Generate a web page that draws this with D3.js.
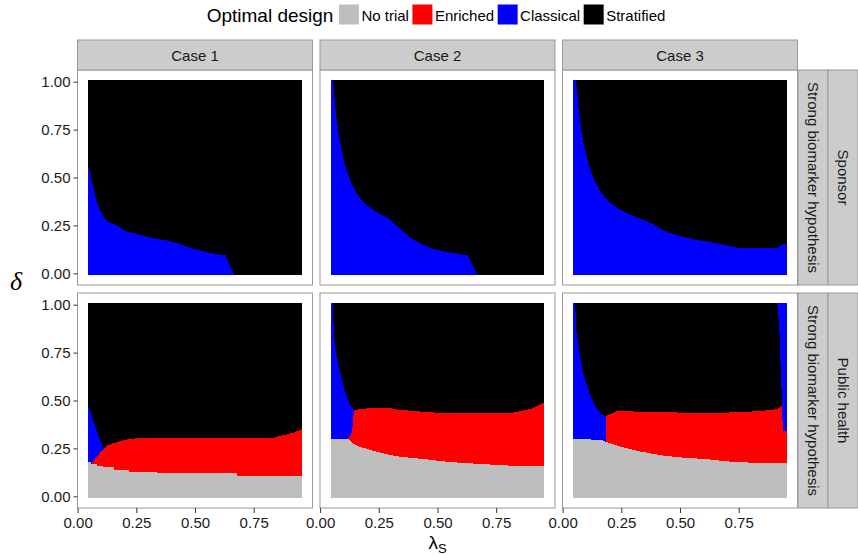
<!DOCTYPE html>
<html>
<head>
<meta charset="utf-8">
<script src="https://cdn.jsdelivr.net/npm/d3@7"></script>
<style>
body { margin: 0; background: #fff; }
text { font-family: "Liberation Sans", Arial, sans-serif; }
</style>
</head>
<body>
<script>
var cases = ["Case 1", "Case 2", "Case 3"];
var rows = ["Sponsor", "Public health"];
var rowSub = "Strong biomarker hypothesis";
var designs = ["No trial", "Enriched", "Classical", "Stratified"];
var designColors = ["#BEBEBE", "#FF0000", "#0000FF", "#000000"];
var xTicks = [0, 0.25, 0.5, 0.75];
var yTicks = [0, 0.25, 0.5, 0.75, 1];

// raster extent (tile edges)
var lamRange = [0.045, 0.955];
var delRange = [-0.01, 1.01];

// boundaries: [lambda_S, delta]
var blueS1 = [[0.045,0.555],[0.051,0.53],[0.06,0.489],[0.068,0.436],[0.079,0.384],[0.094,0.332],[0.108,0.297],[0.129,0.271],[0.15,0.259],[0.179,0.242],[0.207,0.219],[0.25,0.207],[0.292,0.193],[0.335,0.18],[0.391,0.169],[0.42,0.159],[0.462,0.141],[0.505,0.124],[0.548,0.11],[0.59,0.101],[0.63,0.093],[0.668,-0.01]];
var blueS2 = [[0.045,1.01],[0.055,1.01],[0.062,0.905],[0.069,0.818],[0.076,0.749],[0.086,0.68],[0.097,0.61],[0.112,0.54],[0.133,0.471],[0.154,0.419],[0.176,0.384],[0.197,0.358],[0.225,0.332],[0.253,0.311],[0.289,0.289],[0.317,0.259],[0.353,0.219],[0.395,0.176],[0.438,0.15],[0.48,0.128],[0.523,0.115],[0.565,0.107],[0.629,0.093],[0.671,-0.01]];
var blueS3 = [[0.045,1.01],[0.056,1.01],[0.061,0.957],[0.066,0.888],[0.073,0.818],[0.08,0.749],[0.089,0.68],[0.099,0.627],[0.113,0.558],[0.134,0.488],[0.156,0.436],[0.177,0.401],[0.205,0.367],[0.241,0.335],[0.29,0.306],[0.34,0.28],[0.382,0.259],[0.418,0.231],[0.46,0.21],[0.503,0.193],[0.552,0.179],[0.602,0.169],[0.659,0.155],[0.715,0.141],[0.751,0.132],[0.8,0.131],[0.857,0.131],[0.914,0.132],[0.935,0.15],[0.955,0.155]];

var blueP1 = [[0.045,0.472],[0.054,0.446],[0.068,0.394],[0.082,0.342],[0.096,0.29],[0.113,0.252]];
var redP1 = [[0.058,0.168],[0.082,0.208],[0.096,0.228],[0.113,0.252],[0.125,0.264],[0.153,0.278],[0.181,0.287],[0.217,0.299],[0.25,0.302],[0.833,0.302],[0.847,0.311],[0.89,0.322],[0.925,0.334],[0.955,0.351]];
var grayP1 = [[0.045,0.178],[0.058,0.168],[0.082,0.16],[0.11,0.151],[0.153,0.139],[0.217,0.129],[0.337,0.12],[0.677,0.108],[0.955,0.108]];

var blueP2 = [[0.045,1.01],[0.055,1.01],[0.058,0.846],[0.069,0.742],[0.083,0.655],[0.105,0.551],[0.126,0.481],[0.144,0.447]];
var redP2 = [[0.119,0.299],[0.126,0.311],[0.137,0.342],[0.14,0.394],[0.144,0.447],[0.168,0.455],[0.211,0.46],[0.296,0.46],[0.338,0.451],[0.423,0.443],[0.523,0.434],[0.636,0.433],[0.806,0.434],[0.863,0.447],[0.905,0.459],[0.934,0.478],[0.955,0.49]];
var grayP2 = [[0.045,0.299],[0.119,0.299],[0.14,0.276],[0.168,0.259],[0.211,0.243],[0.253,0.229],[0.296,0.216],[0.338,0.207],[0.395,0.2],[0.466,0.191],[0.551,0.179],[0.679,0.169],[0.764,0.163],[0.863,0.157],[0.955,0.157]];

var blueP3 = [[0.045,1.01],[0.054,1.01],[0.057,0.88],[0.071,0.759],[0.085,0.655],[0.106,0.568],[0.134,0.481],[0.163,0.429],[0.183,0.417]];
var blueP3Right = [[0.914,1.01,1.01],[0.923,0.88,1.01],[0.928,0.707,1.01],[0.932,0.568,1.01],[0.935,0.472,1.01],[0.938,0.342,1.01],[0.955,0.342,1.01]];
var redP3 = [[0.183,0.417],[0.227,0.443],[0.29,0.443],[0.46,0.438],[0.645,0.434],[0.815,0.443],[0.857,0.447],[0.914,0.455],[0.935,0.472],[0.938,0.342],[0.955,0.342]];
var grayP3 = [[0.045,0.299],[0.163,0.295],[0.191,0.281],[0.233,0.264],[0.276,0.25],[0.333,0.233],[0.432,0.212],[0.503,0.203],[0.602,0.195],[0.716,0.181],[0.857,0.172],[0.955,0.172]];

var panels = [
  {row:0, col:0, blue:[blueS1]},
  {row:0, col:1, blue:[blueS2]},
  {row:0, col:2, blue:[blueS3]},
  {row:1, col:0, blue:[blueP1], red:redP1, gray:grayP1, grayStep:true},
  {row:1, col:1, blue:[blueP2], red:redP2, gray:grayP2},
  {row:1, col:2, blue:[blueP3], blueExtra:blueP3Right, red:redP3, gray:grayP3}
];

var W = 858, H = 555;
var panelLeft = 77.5, panelW = 235, gapX = 7.5;
var panelTops = [70, 293], panelH = 215;
var stripTop = 40;

var svg = d3.select("body").append("svg").attr("width", W).attr("height", H);

panels.forEach(function(p) {
  var px = panelLeft + p.col * (panelW + gapX);
  var py = panelTops[p.row];
  var x = d3.scaleLinear().domain([-0.0005, 1.0005]).range([px, px + panelW]);
  var y = d3.scaleLinear().domain([-0.061, 1.061]).range([py + panelH, py]);
  var g = svg.append("g");

  g.append("rect").attr("x", px).attr("y", py).attr("width", panelW).attr("height", panelH)
    .attr("fill", "#fff");

  // stratified = background of the raster
  g.append("rect")
    .attr("x", x(lamRange[0])).attr("y", y(delRange[1]))
    .attr("width", x(lamRange[1]) - x(lamRange[0]))
    .attr("height", y(delRange[0]) - y(delRange[1]))
    .attr("fill", designColors[3]).attr("shape-rendering", "crispEdges");

  var area = d3.area()
    .x(function(d) { return x(d[0]); })
    .y0(function(d) { return y(d.length > 2 ? d[1] : delRange[0]); })
    .y1(function(d) { return y(d.length > 2 ? d[2] : d[1]); });

  function fillArea(data, col, curve) {
    g.append("path").attr("d", area.curve(curve || d3.curveLinear)(data))
      .attr("fill", col).attr("shape-rendering", "crispEdges");
  }

  p.blue.forEach(function(b) { fillArea(b, designColors[2]); });
  if (p.blueExtra) fillArea(p.blueExtra, designColors[2]);
  if (p.red) fillArea(p.red, designColors[1]);
  if (p.gray) fillArea(p.gray, designColors[0], p.grayStep ? d3.curveStepAfter : d3.curveLinear);

  g.append("rect").attr("x", px).attr("y", py).attr("width", panelW).attr("height", panelH)
    .attr("fill", "none").attr("stroke", "#999").attr("stroke-width", 1);

  if (p.col === 0) {
    var ya = g.append("g").attr("transform", "translate(" + px + ",0)")
      .call(d3.axisLeft(y).tickValues(yTicks).tickFormat(d3.format(".2f")).tickSize(4).tickPadding(3));
    ya.select(".domain").remove();
    ya.selectAll("line").attr("stroke", "#333");
    ya.selectAll("text").attr("font-size", 15).attr("fill", "#1a1a1a")
      .style("font-family", "Liberation Sans, Arial, sans-serif");
  }
  if (p.row === 1) {
    var xa = g.append("g").attr("transform", "translate(0," + (py + panelH) + ")")
      .call(d3.axisBottom(x).tickValues(xTicks).tickFormat(d3.format(".2f")).tickSize(5).tickPadding(4));
    xa.select(".domain").remove();
    xa.selectAll("line").attr("stroke", "#333");
    xa.selectAll("text").attr("font-size", 15).attr("fill", "#1a1a1a")
      .style("font-family", "Liberation Sans, Arial, sans-serif");
  }
  if (p.row === 0) {
    g.append("rect").attr("x", px).attr("y", stripTop).attr("width", panelW).attr("height", py - stripTop)
      .attr("fill", "#CCCCCC").attr("stroke", "#999");
    g.append("text").attr("x", px + panelW / 2).attr("y", (stripTop + py) / 2)
      .attr("text-anchor", "middle").attr("dominant-baseline", "central")
      .attr("font-size", 15).attr("fill", "#1a1a1a").text(cases[p.col]);
  }
  if (p.col === 2) {
    var sx = px + panelW + 0.5;
    [[sx, 30, rowSub], [sx + 30, 30, rows[p.row]]].forEach(function(s) {
      g.append("rect").attr("x", s[0]).attr("y", py).attr("width", s[1]).attr("height", panelH)
        .attr("fill", "#CCCCCC").attr("stroke", "#999");
      g.append("text")
        .attr("transform", "translate(" + (s[0] + s[1] / 2) + "," + (py + panelH / 2) + ") rotate(90)")
        .attr("text-anchor", "middle").attr("dominant-baseline", "central")
        .attr("font-size", 15).attr("fill", "#1a1a1a").text(s[2]);
    });
  }
});

// axis titles
var xt = svg.append("text").attr("x", 437.5).attr("y", 549).attr("text-anchor", "middle")
  .attr("font-size", 19).attr("fill", "#000");
xt.append("tspan").text("\u03BB");
xt.append("tspan").attr("font-size", 13).attr("dy", 4).text("S");

svg.append("text").attr("x", 16).attr("y", 290).attr("text-anchor", "middle")
  .attr("font-size", 26).attr("font-style", "italic")
  .style("font-family", "Liberation Serif, serif").text("\u03B4");

// legend
var leg = svg.append("g");
var title = leg.append("text").attr("x", 0).attr("y", 15).attr("dominant-baseline", "central")
  .attr("font-size", 19).attr("fill", "#000").text("Optimal design");
var cx = title.node().getComputedTextLength() + 5;
designs.forEach(function(d, i) {
  leg.append("rect").attr("x", cx).attr("y", 4).attr("width", 21).attr("height", 21)
    .attr("fill", designColors[i]).attr("stroke", "#fff").attr("stroke-width", 1);
  var t = leg.append("text").attr("x", cx + 23).attr("y", 15).attr("dominant-baseline", "central")
    .attr("font-size", 15).attr("fill", "#000").text(d);
  cx += 23 + t.node().getComputedTextLength() + 3;
});
leg.attr("transform", "translate(" + (437.5 - cx / 2) + ",0)");
</script>
</body>
</html>
